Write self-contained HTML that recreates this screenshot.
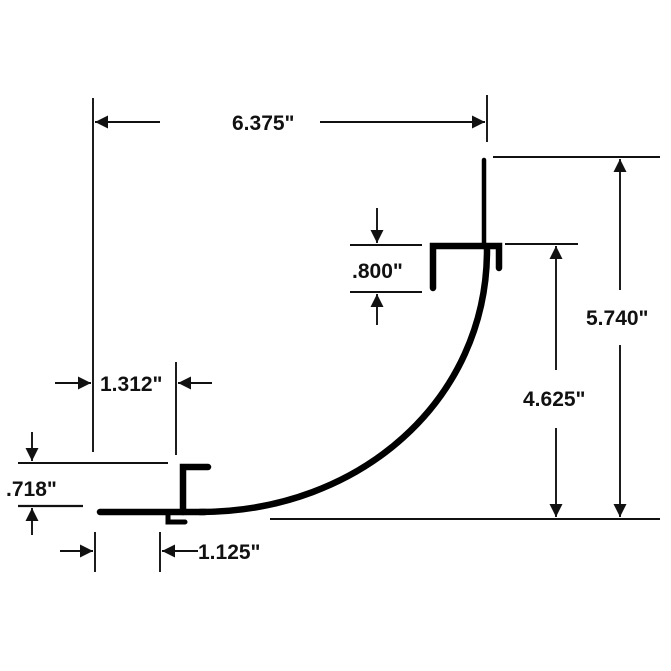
<!DOCTYPE html>
<html><head><style>body{margin:0;background:#fff}svg{display:block}text{font-family:"Liberation Sans",sans-serif;font-weight:bold;font-size:21px;fill:#111}</style></head>
<body>
<svg width="671" height="671" viewBox="0 0 671 671">
<defs>
<marker id="b" viewBox="0 0 10 10" refX="10" refY="5" markerWidth="18" markerHeight="13" orient="auto" markerUnits="userSpaceOnUse"><path d="M0,0L10,5L0,10Z" fill="#111"/></marker>
</defs>
<g stroke="#111" stroke-width="1.9" fill="none">
<line x1="93" y1="98" x2="93" y2="452"/>
<line x1="487" y1="95" x2="487" y2="142"/>
<line x1="160" y1="122" x2="95" y2="122" marker-end="url(#b)"/>
<line x1="320" y1="122" x2="485" y2="122" marker-end="url(#b)"/>
<line x1="493" y1="157" x2="660" y2="157"/>
<line x1="270" y1="519" x2="660" y2="519"/>
<line x1="505" y1="244" x2="578" y2="244"/>
<line x1="620" y1="290" x2="620" y2="159" marker-end="url(#b)"/>
<line x1="620" y1="345" x2="620" y2="517" marker-end="url(#b)"/>
<line x1="556" y1="370" x2="556" y2="246" marker-end="url(#b)"/>
<line x1="556" y1="428" x2="556" y2="517" marker-end="url(#b)"/>
<line x1="350" y1="245" x2="422" y2="245"/>
<line x1="350" y1="292" x2="422" y2="292"/>
<line x1="377" y1="208" x2="377" y2="243" marker-end="url(#b)"/>
<line x1="377" y1="325" x2="377" y2="294" marker-end="url(#b)"/>
<line x1="176" y1="362" x2="176" y2="455"/>
<line x1="55" y1="383" x2="91" y2="383" marker-end="url(#b)"/>
<line x1="212" y1="383" x2="178" y2="383" marker-end="url(#b)"/>
<line x1="18" y1="463" x2="168" y2="463"/>
<line x1="18" y1="506" x2="83" y2="506" stroke-width="2.2"/>
<line x1="32" y1="432" x2="32" y2="461" marker-end="url(#b)"/>
<line x1="32" y1="535" x2="32" y2="508" marker-end="url(#b)"/>
<line x1="95" y1="532" x2="95" y2="572"/>
<line x1="160" y1="532" x2="160" y2="572"/>
<line x1="60" y1="551" x2="93" y2="551" marker-end="url(#b)"/>
<line x1="198" y1="551" x2="162" y2="551" marker-end="url(#b)"/>
</g>
<g stroke="#000" fill="none" stroke-linecap="round">
<line x1="484" y1="160" x2="484" y2="247" stroke-width="4.5"/>
<path d="M433 288V246H499V268" stroke-width="6.5" stroke-linejoin="miter"/>
<path d="M487 250C487 400 360 512 200 512" stroke-width="6.5"/>
<line x1="100" y1="512" x2="205" y2="512" stroke-width="6.5"/>
<path d="M208 467H183V512" stroke-width="6.5"/>
<path d="M168 512V522H185" stroke-width="5"/>
</g>
<rect x="228" y="108" width="92" height="26" fill="#fff"/>
<text x="232" y="130">6.375"</text>
<rect x="586" y="302" width="74" height="28" fill="#fff"/>
<text x="586" y="325">5.740"</text>
<rect x="522" y="384" width="72" height="28" fill="#fff"/>
<text x="523" y="406">4.625"</text>
<text x="352" y="278">.800"</text>
<text x="100" y="391">1.312"</text>
<text x="6" y="496">.718"</text>
<text x="198" y="559">1.125"</text>
</svg>
</body></html>
